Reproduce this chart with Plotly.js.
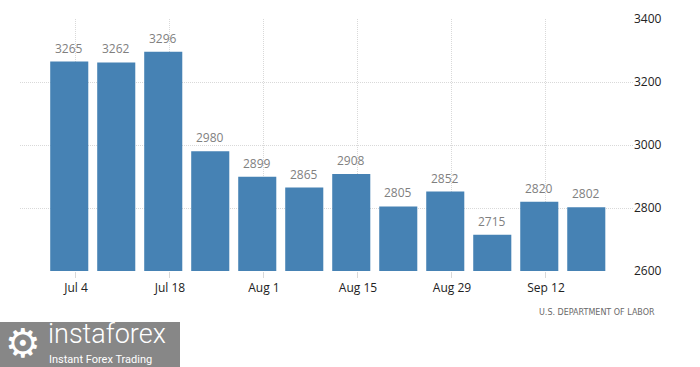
<!DOCTYPE html>
<html>
<head>
<meta charset="utf-8">
<script src="https://cdn.plot.ly/plotly-3.0.1.min.js"></script>
<style>html,body{margin:0;padding:0;background:#fff;}#chart{width:700px;height:367px;}</style>
</head>
<body>
<div id="chart"></div>
<script>
// Data
const weekDates = ["2022-07-03","2022-07-10","2022-07-17","2022-07-24","2022-07-31","2022-08-07",
                   "2022-08-14","2022-08-21","2022-08-28","2022-09-04","2022-09-11","2022-09-18"];
const claims = [3265, 3262, 3296, 2980, 2899, 2865, 2908, 2805, 2852, 2715, 2820, 2802];
const tickDates = ["2022-07-04","2022-07-18","2022-08-01","2022-08-15","2022-08-29","2022-09-12"];
const tickLabels = ["Jul 4","Jul 18","Aug 1","Aug 15","Aug 29","Sep 12"];
const yTicks = [2600, 2800, 3000, 3200, 3400];
const sourceText = "U.S. DEPARTMENT OF LABOR";

// plot area in pixels: left 20, right 633, top 19, bottom 271
const L = 20, R = 633, T = 19, B = 271;
const px = x => (x - L) / (R - L);
const py = y => (B - y) / (B - T);

const font = "'Open Sans', 'Noto Sans', sans-serif";

const trace = {
  type: "bar",
  x: weekDates,
  y: claims,
  marker: {color: "#4682b4", line: {width: 0}},
  hoverinfo: "x+y",
  showlegend: false
};

const valueAnnotations = weekDates.map((d, i) => ({
  x: d, y: claims[i], xref: "x", yref: "y",
  text: String(claims[i]), showarrow: false,
  yanchor: "bottom", yshift: 3,
  font: {family: font, size: 12, color: "#7f7f7f"}
}));

const layout = {
  width: 700, height: 367,
  margin: {l: L, r: 700 - R, t: T, b: 367 - B, pad: 0},
  paper_bgcolor: "#ffffff",
  plot_bgcolor: "#ffffff",
  bargap: 0.19,
  xaxis: {
    type: "date",
    automargin: false,
    range: ["2022-06-25 16:00", "2022-09-24 23:00"],
    tickvals: tickDates,
    ticktext: tickLabels,
    showgrid: true,
    gridcolor: "#d9d9d9",
    griddash: "1px,1px",
    gridwidth: 1,
    ticks: "outside",
    ticklen: 6,
    tickcolor: "#d9d9d9",
    showline: false,
    zeroline: false,
    tickfont: {family: font, size: 12, color: "#222"},
    fixedrange: true
  },
  yaxis: {
    side: "right",
    automargin: false,
    range: [2600, 3400],
    tickvals: yTicks,
    ticktext: yTicks.map(String),
    showgrid: true,
    gridcolor: "#d9d9d9",
    griddash: "1px,1px",
    gridwidth: 1,
    ticks: "",
    zeroline: false,
    showline: false,
    tickfont: {family: font, size: 12, color: "#222"},
    fixedrange: true
  },
  shapes: [{
    type: "rect", xref: "paper", yref: "paper",
    x0: px(0), x1: px(180), y0: py(367), y1: py(322),
    fillcolor: "#878787", line: {width: 0}, layer: "above"
  }],
  annotations: valueAnnotations.concat([
    {
      xref: "paper", yref: "paper", x: px(657), y: py(312),
      xanchor: "right", yanchor: "middle", showarrow: false,
      text: sourceText,
      font: {family: "'DejaVu Sans', sans-serif", size: 8, color: "#6a6a6a"}
    },
    {
      xref: "paper", yref: "paper", x: px(23), y: py(343),
      xanchor: "center", yanchor: "middle", showarrow: false,
      text: "⚙",
      font: {family: "'DejaVu Sans', sans-serif", size: 40, color: "#ffffff"}
    },
    {
      xref: "paper", yref: "paper", x: px(46), y: py(334),
      xanchor: "left", yanchor: "middle", showarrow: false,
      text: "instaforex",
      font: {family: "Roboto, sans-serif", size: 27, color: "#ffffff", weight: 300}
    },
    {
      xref: "paper", yref: "paper", x: px(47), y: py(359),
      xanchor: "left", yanchor: "middle", showarrow: false,
      text: "Instant Forex Trading",
      font: {family: "Roboto, sans-serif", size: 11, color: "#ffffff"}
    }
  ])
};

Plotly.newPlot("chart", [trace], layout, {displayModeBar: false, staticPlot: true});
</script>
</body>
</html>
